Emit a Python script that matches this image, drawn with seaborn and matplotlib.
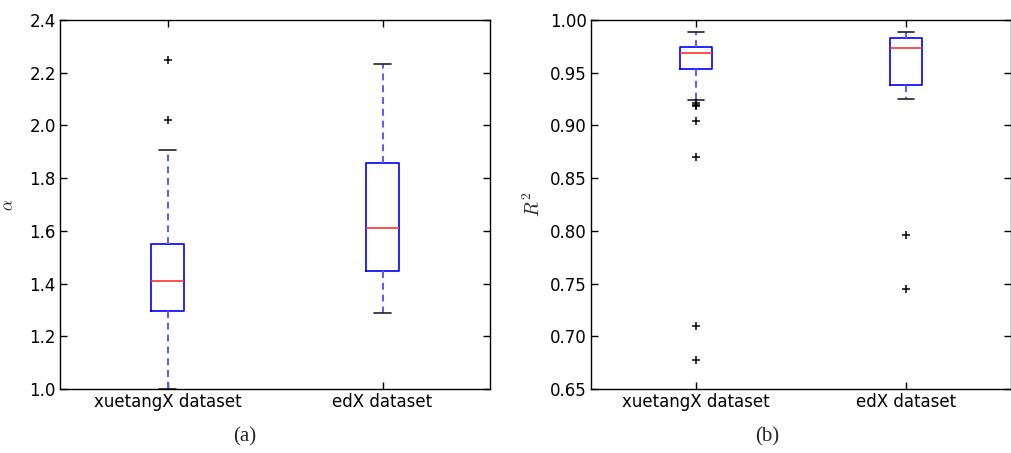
import matplotlib
matplotlib.use("Agg")
import matplotlib.pyplot as plt
import seaborn as sns
import pandas as pd

# ---- data (box statistics) ----
datasets = ["xuetangX dataset", "edX dataset"]

# alpha panel
alpha_whislo = [1.000, 1.288]
alpha_q1 = [1.297, 1.449]
alpha_med = [1.408, 1.612]
alpha_q3 = [1.551, 1.857]
alpha_whishi = [1.905, 2.233]
alpha_out = [[2.022, 2.250], []]

# R^2 panel
r2_whislo = [0.9238, 0.9250]
r2_q1 = [0.9539, 0.9387]
r2_med = [0.9684, 0.9732]
r2_q3 = [0.9748, 0.9833]
r2_whishi = [0.9887, 0.9887]
r2_out = [[0.9210, 0.9195, 0.9185, 0.9040, 0.8697, 0.7095, 0.6775],
          [0.7960, 0.7450]]

alpha_ticks = [1.0, 1.2, 1.4, 1.6, 1.8, 2.0, 2.2, 2.4]
r2_ticks = [0.65, 0.70, 0.75, 0.80, 0.85, 0.90, 0.95, 1.00]


def sample_from_stats(wlo, q1, med, q3, whi, outs):
    """Build a sample whose box statistics equal the given ones."""
    low = sorted([o for o in outs if o < wlo]) + [wlo]
    high = [whi] + sorted([o for o in outs if o > whi])
    k = max(len(low), len(high)) + 1
    n = 4 * k + 1
    vals = list(low)
    vals += [q1] * (k + 1 - len(vals))          # position k == q1
    vals += [med] * (2 * k + 1 - len(vals))     # position 2k == median
    vals += [q3] * (n - len(high) - len(vals))  # position 3k == q3
    vals += high
    return vals


def build_frame(wlo, q1, med, q3, whi, outs):
    rows = []
    for i, name in enumerate(datasets):
        for v in sample_from_stats(wlo[i], q1[i], med[i], q3[i], whi[i], outs[i]):
            rows.append({"dataset": name, "value": v})
    return pd.DataFrame(rows)


df_alpha = build_frame(alpha_whislo, alpha_q1, alpha_med, alpha_q3, alpha_whishi, alpha_out)
df_r2 = build_frame(r2_whislo, r2_q1, r2_med, r2_q3, r2_whishi, r2_out)

sns.set_style("ticks")
plt.rcParams["font.family"] = ["DejaVu Sans"]
plt.rcParams["mathtext.fontset"] = "cm"
plt.rcParams["lines.scale_dashes"] = False

fig = plt.figure(figsize=(10.12, 4.53), dpi=100)
ax1 = fig.add_axes([0.0593, 0.1413, 0.4249, 0.8146])
ax2 = fig.add_axes([0.5840, 0.1413, 0.4150, 0.8146])

box_kw = dict(
    width=0.15,
    fill=False,
    color="blue",
    linewidth=1.0,
    whis=1.5,
    boxprops=dict(color="blue", linewidth=1.2),
    medianprops=dict(color="#ff3030", linewidth=1.2),
    whiskerprops=dict(color="#5a5aff", linestyle=(0, (5, 3.5)), linewidth=1.4),
    capprops=dict(color="#222222", linewidth=1.2),
    flierprops=dict(marker="+", markeredgecolor="black", markerfacecolor="black",
                    markersize=6, markeredgewidth=1.1, linestyle="none"),
)

for ax, df, ticks, lim, lab, fs, lp in [
    (ax1, df_alpha, alpha_ticks, (1.0, 2.4), r"$\alpha$", 12, 9),
    (ax2, df_r2, r2_ticks, (0.65, 1.0), r"$R^2$", 14, 4),
]:
    sns.boxplot(data=df, x="dataset", y="value", order=datasets, ax=ax, **box_kw)
    ax.set_ylim(*lim)
    ax.set_xlim(-0.5, 1.5)
    ax.set_yticks(ticks)
    ax.set_yticklabels(["%.1f" % t if ax is ax1 else "%.2f" % t for t in ticks])
    ax.set_xlabel("")
    ax.set_ylabel(lab, fontsize=fs, labelpad=lp)
    ax.tick_params(direction="in", top=True, right=True, length=5, width=1,
                   labelsize=12, colors="black", pad=3)
    for s in ax.spines.values():
        s.set_visible(True)
        s.set_color("black")
        s.set_linewidth(1.0)
    ax.set_facecolor("white")

fig.text(245 / 1012, 1 - 437 / 453, "(a)", ha="center", va="center",
         fontsize=15, family="Liberation Serif")
fig.text(767 / 1012, 1 - 437 / 453, "(b)", ha="center", va="center",
         fontsize=15, family="Liberation Serif")

fig.savefig("out.png", dpi=100, facecolor="white")
